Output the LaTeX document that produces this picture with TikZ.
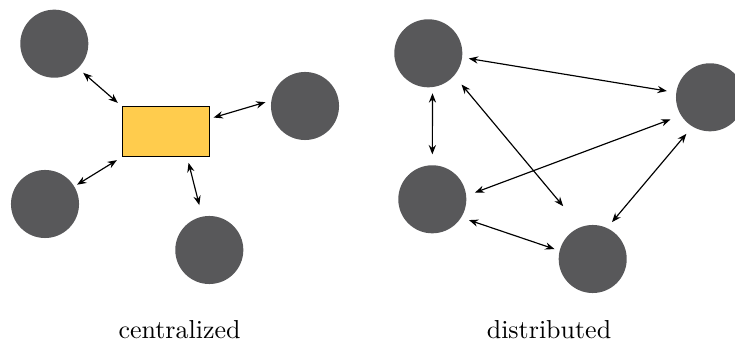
\documentclass[tikz,border=0pt]{standalone}
\usetikzlibrary{arrows.meta}

\definecolor{peergray}{RGB}{88,88,90}
\definecolor{serveryellow}{RGB}{255,204,77}

\begin{document}
\begin{tikzpicture}[x=0.385pt, y=-0.385pt,
		peer/.style={circle, fill=peergray, minimum size=26.2pt, inner sep=0pt},
		server/.style={rectangle, draw, fill=serveryellow, minimum width=33.6pt, minimum height=19.3pt, inner sep=0pt},
		link/.style={{Stealth[length=3.6pt,width=2.8pt,inset=1.2pt]}-{Stealth[length=3.6pt,width=2.8pt,inset=1.2pt]}, line width=0.45pt}]
	\useasboundingbox (0,0) rectangle (735,347);

	% centralized
	\node[server] (hub) at (165.7,131.7) {};
	\node[peer] (c1) at (54.3,43.7) {};
	\node[peer] (c2) at (305,106) {};
	\node[peer] (c3) at (45,204) {};
	\node[peer] (c4) at (209.3,250) {};

	\draw[link, shorten <=2.5pt, shorten >=1.9pt] (c1.-46) -- (hub.north west);
	\draw[link, shorten <=1.5pt, shorten >=2.2pt] (hub) -- (c2.171);
	\draw[link, shorten <=1.1pt, shorten >=2.1pt] (c3.31) -- (hub.south west);
	\draw[link, shorten <=2.2pt, shorten >=4.4pt] (hub.-50) -- (c4.102);

	% distributed
	\node[peer] (d1) at (428.3,53.3) {};
	\node[peer] (d2) at (710,97.3) {};
	\node[peer] (d3) at (432.3,199.3) {};
	\node[peer] (d4) at (592.7,259) {};

	\draw[link, shorten <=2.4pt, shorten >=3.5pt] (d1.-7) -- (d2.172);
	\draw[link, shorten <=2.2pt, shorten >=4pt] (d1.-83) -- (d3.90);
	\draw[link, shorten <=4.3pt, shorten >=10.3pt] (d1.-41) -- (d4.111);
	\draw[link, shorten <=3.4pt, shorten >=4.2pt] (d3.6) -- (d2.-148);
	\draw[link, shorten <=3pt, shorten >=1.9pt] (d3.-32) -- (d4.166);
	\draw[link, shorten <=3.5pt, shorten >=2.8pt] (d2.-121) -- (d4.65);

	\node[anchor=base] (lc) at (179.5,339) {centralized};
	\node[anchor=base] (ld) at (549,339) {distributed};
\end{tikzpicture}
\end{document}
